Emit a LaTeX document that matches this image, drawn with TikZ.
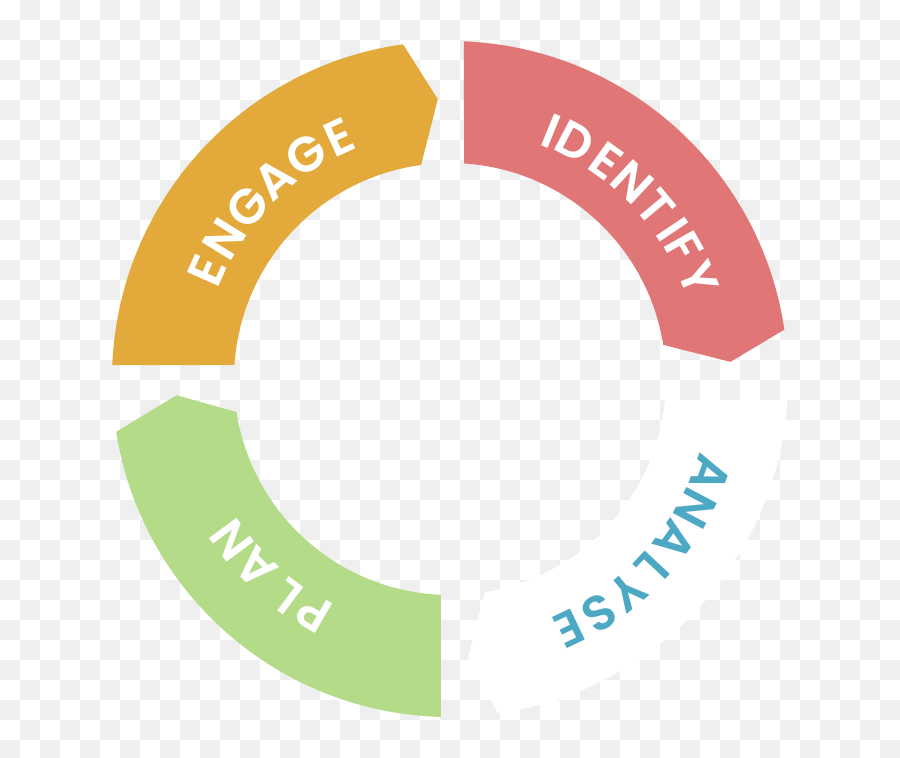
\documentclass[tikz,border=0pt]{standalone}
\usepackage{fontspec}
\usepackage{xcolor}
\usepackage{tikz}
\newfontfamily\ringfont{Poppins}[BoldFont={Poppins SemiBold}]
\definecolor{engageorange}{RGB}{227, 170, 59}
\definecolor{identifyred}{RGB}{225, 118, 118}
\definecolor{planGreen}{RGB}{180, 219, 135}
\definecolor{analyseblue}{RGB}{77, 168, 196}
\definecolor{checkgray}{RGB}{239, 239, 239}

\begin{document}
\begin{tikzpicture}[scale=0.02, letter/.style = {text=white, inner sep=0pt, font=\ringfont\bfseries\fontsize{28}{28}\selectfont}]
        \useasboundingbox (-450,-378) rectangle (450,379);
        % checkerboard background
        \fill[white] (-450,-378) rectangle (450,379);
        \foreach \i in {0,...,44}
            \foreach \j in {0,...,37}{
                \pgfmathtruncatemacro{\odd}{mod(\i+\j,2)}
                \ifnum\odd=1 \fill[checkgray] (20*\i-450,379-20*\j) rectangle ++(20,-20); \fi
            }
        % ring segments
        \fill[identifyred] (87.63:338) arc[start angle=87.63, end angle=8.4, radius=338]
                -- (3.5:281) -- (9.1:216) arc[start angle=9.1, end angle=86.28, radius=216] -- cycle;
        \fill[white] (-3.56:338) arc[start angle=-3.56, end angle=-81.8, radius=338]
                -- (-86.3:279) -- (-80.7:216) arc[start angle=-80.7, end angle=-5.58, radius=216] -- cycle;
        \fill[planGreen] (268.47:338) arc[start angle=268.47, end angle=189, radius=338]
                -- (183.4:274) -- (188.8:216) arc[start angle=188.8, end angle=267.61, radius=216] -- cycle;
        \fill[engageorange] (177.63:338) arc[start angle=177.63, end angle=98, radius=338]
                -- (92.5:280) -- (97.7:216) arc[start angle=97.7, end angle=176.28, radius=216] -- cycle;
        % labels
        \foreach \ch/\ang [count=\k] in {E/156, N/148.2, G/139.7, A/131.2, G/122.7, E/114.7}
            \node[letter, rotate=\ang-90] (engage-\k) at (\ang:266) {\ch};
        \foreach \ch/\ang [count=\k] in {I/67.8, D/62.2, E/54.4, N/47.1, T/39.8, I/33.9, F/29.4, Y/22.1}
            \node[letter, rotate=\ang-90] (identify-\k) at (\ang:268) {\ch};
        \foreach \ch/\ang [count=\k] in {A/-20, N/-27.9, A/-35.8, L/-43.1, Y/-50.2, S/-57.5, E/-64.5}
            \node[letter, text=analyseblue, rotate=\ang-90] (analyse-\k) at (\ang:277) {\ch};
        \foreach \ch/\ang [count=\k] in {P/239.8, L/233.2, A/224.2, N/216.5}
            \node[letter, rotate=\ang-90] (plan-\k) at (\ang:271) {\ch};
    \end{tikzpicture}
\end{document}
